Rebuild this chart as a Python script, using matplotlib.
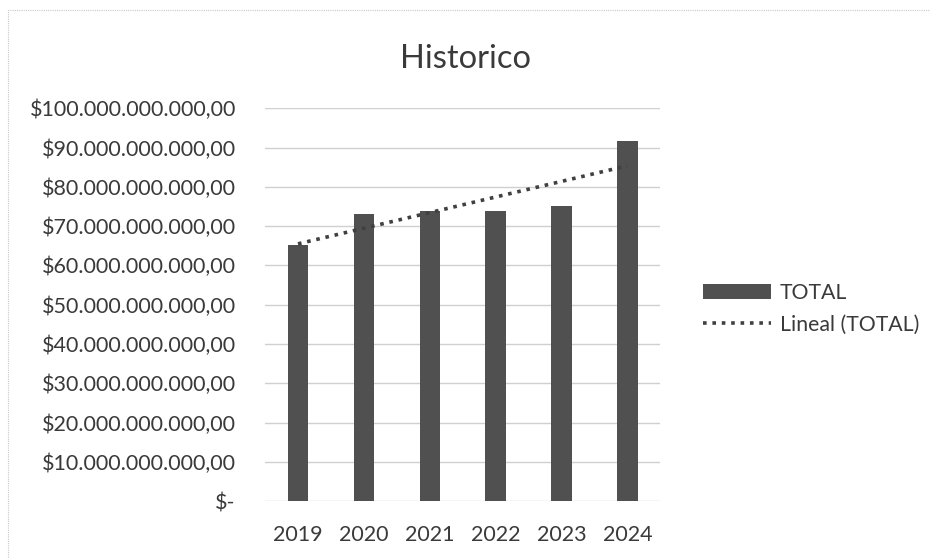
import matplotlib.pyplot as plt
import numpy as np
from matplotlib.ticker import FuncFormatter, MultipleLocator

years = ['2019', '2020', '2021', '2022', '2023', '2024']
totals = [65.1e9, 73.0e9, 73.8e9, 73.9e9, 75.0e9, 91.7e9]

plt.rcParams['font.family'] = ['Lato', 'DejaVu Sans']
text_color = '#3a3a3a'

fig = plt.figure(figsize=(9.3, 5.58), dpi=100)
ax = fig.add_axes([0.285, 0.102, 0.425, 0.704])

x = np.arange(len(years))
bars = ax.bar(x, totals, width=0.31, color='#505050', label='TOTAL', zorder=2)

# linear trend line, like Excel's "Lineal"
slope, intercept = np.polyfit(x, totals, 1)
trend, = ax.plot(x, slope * x + intercept, linestyle=(0, (1, 1.6)),
                 color='#404040', linewidth=2.6, label='Lineal (TOTAL)',
                 zorder=3)


def money(v, pos):
    if v == 0:
        return '$-'
    s = f"${v:,.2f}"
    return s.replace(',', 'X').replace('.', ',').replace('X', '.')


ax.set_xlim(-0.5, 5.5)
ax.set_ylim(0, 100e9)
ax.yaxis.set_major_locator(MultipleLocator(10e9))
ax.yaxis.set_major_formatter(FuncFormatter(money))
ax.set_xticks(x)
ax.set_xticklabels(years)
ax.grid(axis='y', color='#d0d0d0', linewidth=1, zorder=0)
for side in ax.spines.values():
    side.set_visible(False)
ax.tick_params(axis='both', length=0, labelsize=15.5, colors=text_color)
ax.tick_params(axis='y', pad=21)
ax.tick_params(axis='x', pad=17)

fig.text(0.5, 0.895, 'Historico', ha='center', va='center', fontsize=23.5,
         color=text_color)

ax.legend([bars, trend], ['TOTAL', 'Lineal (TOTAL)'], loc='center left',
          bbox_to_anchor=(1.06, 0.49), frameon=False, fontsize=15.3,
          labelcolor=text_color, handlelength=3.2, handletextpad=0.4,
          labelspacing=0.55)

# light dotted chart border
fig.patches.append(plt.Rectangle((8 / 930, -0.01), 1.0, 1 - 10 / 558 + 0.01,
                                 transform=fig.transFigure, fill=False,
                                 edgecolor='#c8c8c8', linewidth=0.8,
                                 linestyle=(0, (1, 1))))

plt.savefig('out.png', dpi=100)
